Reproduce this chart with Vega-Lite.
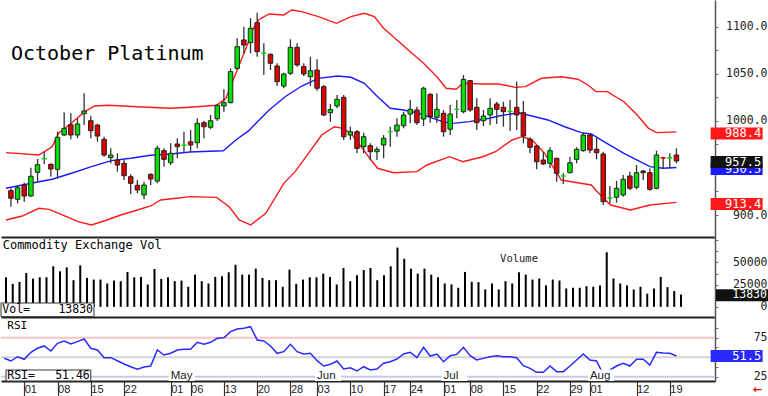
{
"$schema": "https://vega.github.io/schema/vega-lite/v6.json",
"padding": 0,
"background": "white",
"spacing": 0,
"bounds": "flush",
"config": {"view": {"stroke": null}, "axis": {"grid": false, "labelFlush": false, "labelOverlap": false}},
"datasets": {
"one": [{}],
"candles": [{"i":0,"o":925.9,"h":928.4,"l":908.8,"c":917.8},{"i":1,"o":916.7,"h":931.2,"l":912.4,"c":929.0},{"i":2,"o":931.9,"h":934.3,"l":914.2,"c":920.2},{"i":3,"o":920.2,"h":950.3,"l":919.5,"c":941.2},{"i":4,"o":945.4,"h":959.6,"l":935.4,"c":953.5},{"i":5,"o":959.6,"h":967.3,"l":954.2,"c":960.2},{"i":6,"o":953.9,"h":955.0,"l":940.7,"c":948.9},{"i":7,"o":948.6,"h":988.6,"l":938.9,"c":982.7},{"i":8,"o":985.1,"h":1009.2,"l":984.0,"c":992.2},{"i":9,"o":996.0,"h":1008.2,"l":980.5,"c":985.1},{"i":10,"o":985.1,"h":1002.9,"l":981.6,"c":996.8},{"i":11,"o":1007.8,"h":1029.5,"l":995.7,"c":1010.6},{"i":12,"o":1000.3,"h":1005.6,"l":981.6,"c":989.7},{"i":13,"o":995.7,"h":997.0,"l":978.0,"c":984.0},{"i":14,"o":980.5,"h":983.3,"l":962.0,"c":963.8},{"i":15,"o":961.0,"h":970.9,"l":955.0,"c":963.8},{"i":16,"o":958.5,"h":965.6,"l":946.0,"c":953.2},{"i":17,"o":955.0,"h":959.2,"l":937.2,"c":941.8},{"i":18,"o":940.7,"h":943.3,"l":922.0,"c":933.7},{"i":19,"o":931.6,"h":937.2,"l":923.1,"c":926.6},{"i":20,"o":921.3,"h":935.4,"l":916.7,"c":931.9},{"i":21,"o":943.2,"h":944.4,"l":931.9,"c":938.3},{"i":22,"o":936.1,"h":973.7,"l":933.7,"c":971.0},{"i":23,"o":968.4,"h":971.0,"l":951.4,"c":959.2},{"i":24,"o":955.6,"h":976.3,"l":953.2,"c":965.6},{"i":25,"o":975.5,"h":981.6,"l":960.3,"c":972.7},{"i":26,"o":974.0,"h":988.6,"l":967.3,"c":974.5},{"i":27,"o":977.9,"h":990.4,"l":967.3,"c":974.5},{"i":28,"o":976.9,"h":1002.9,"l":970.9,"c":997.5},{"i":29,"o":998.2,"h":1000.3,"l":981.6,"c":993.9},{"i":30,"o":993.3,"h":1006.4,"l":991.2,"c":1000.3},{"i":31,"o":1002.4,"h":1017.7,"l":1000.0,"c":1016.7},{"i":32,"o":1016.0,"h":1033.7,"l":1009.9,"c":1019.5},{"i":33,"o":1019.5,"h":1056.0,"l":1018.8,"c":1052.5},{"i":34,"o":1056.0,"h":1088.0,"l":1054.2,"c":1079.0},{"i":35,"o":1086.2,"h":1100.3,"l":1072.0,"c":1080.8},{"i":36,"o":1083.3,"h":1109.3,"l":1072.0,"c":1098.6},{"i":37,"o":1104.6,"h":1115.2,"l":1068.4,"c":1073.7},{"i":38,"o":1072.0,"h":1082.6,"l":1048.9,"c":1072.4},{"i":39,"o":1070.9,"h":1072.0,"l":1054.2,"c":1061.4},{"i":40,"o":1058.5,"h":1061.4,"l":1037.2,"c":1041.8},{"i":41,"o":1037.2,"h":1051.4,"l":1034.8,"c":1050.0},{"i":42,"o":1050.7,"h":1086.9,"l":1048.9,"c":1078.4},{"i":43,"o":1078.4,"h":1082.6,"l":1057.8,"c":1059.6},{"i":44,"o":1057.8,"h":1061.4,"l":1047.9,"c":1050.0},{"i":45,"o":1047.1,"h":1068.4,"l":1037.2,"c":1053.5},{"i":46,"o":1054.2,"h":1065.6,"l":1032.2,"c":1034.8},{"i":47,"o":1036.5,"h":1038.3,"l":1005.3,"c":1006.4},{"i":48,"o":1008.8,"h":1018.1,"l":999.2,"c":1012.2},{"i":49,"o":1016.0,"h":1027.7,"l":1013.5,"c":1023.1},{"i":50,"o":1025.2,"h":1027.7,"l":979.8,"c":983.3},{"i":51,"o":985.1,"h":993.9,"l":979.8,"c":988.6},{"i":52,"o":988.6,"h":990.4,"l":965.6,"c":970.9},{"i":53,"o":972.7,"h":987.6,"l":965.6,"c":983.3},{"i":54,"o":973.7,"h":976.3,"l":958.5,"c":967.3},{"i":55,"o":967.3,"h":972.7,"l":958.5,"c":969.9},{"i":56,"o":974.5,"h":985.1,"l":960.3,"c":981.6},{"i":57,"o":988.4,"h":993.9,"l":972.7,"c":988.8},{"i":58,"o":989.4,"h":1002.9,"l":983.3,"c":995.7},{"i":59,"o":995.0,"h":1009.9,"l":992.2,"c":1006.4},{"i":60,"o":1007.4,"h":1022.3,"l":997.5,"c":1012.4},{"i":61,"o":1011.7,"h":1015.2,"l":995.7,"c":998.2},{"i":62,"o":1002.1,"h":1036.5,"l":994.7,"c":1034.8},{"i":63,"o":1028.4,"h":1029.5,"l":998.2,"c":1004.6},{"i":64,"o":1003.9,"h":1029.5,"l":998.2,"c":1012.4},{"i":65,"o":1008.2,"h":1011.7,"l":983.3,"c":988.6},{"i":66,"o":991.2,"h":1017.0,"l":985.1,"c":1007.4},{"i":67,"o":1012.2,"h":1022.3,"l":1002.9,"c":1012.6},{"i":68,"o":1009.9,"h":1048.9,"l":1008.2,"c":1044.3},{"i":69,"o":1042.9,"h":1043.6,"l":1009.9,"c":1011.7},{"i":70,"o":1014.6,"h":1024.1,"l":990.4,"c":998.2},{"i":71,"o":1000.3,"h":1011.7,"l":994.7,"c":1005.3},{"i":72,"o":1006.4,"h":1024.1,"l":995.7,"c":1013.5},{"i":73,"o":1018.1,"h":1020.5,"l":996.8,"c":1012.4},{"i":74,"o":1014.6,"h":1020.5,"l":994.0,"c":1009.9},{"i":75,"o":1010.0,"h":1022.3,"l":989.4,"c":1010.4},{"i":76,"o":1014.6,"h":1041.8,"l":990.4,"c":1006.4},{"i":77,"o":1008.8,"h":1021.3,"l":976.3,"c":984.0},{"i":78,"o":980.5,"h":982.7,"l":965.6,"c":972.0},{"i":79,"o":973.4,"h":974.5,"l":948.6,"c":956.7},{"i":80,"o":958.5,"h":967.3,"l":953.2,"c":954.3},{"i":81,"o":955.0,"h":972.0,"l":949.7,"c":968.4},{"i":82,"o":960.3,"h":960.8,"l":935.4,"c":944.4},{"i":83,"o":941.3,"h":944.4,"l":932.9,"c":941.7},{"i":84,"o":945.0,"h":962.0,"l":944.4,"c":955.6},{"i":85,"o":959.2,"h":972.0,"l":955.0,"c":969.9},{"i":86,"o":968.4,"h":987.6,"l":967.3,"c":985.1},{"i":87,"o":985.1,"h":986.2,"l":965.6,"c":969.1},{"i":88,"o":969.9,"h":982.7,"l":959.2,"c":966.3},{"i":89,"o":964.9,"h":967.3,"l":910.6,"c":914.2},{"i":90,"o":917.8,"h":930.8,"l":912.4,"c":918.3},{"i":91,"o":918.8,"h":936.5,"l":913.1,"c":928.4},{"i":92,"o":921.3,"h":942.5,"l":919.5,"c":938.0},{"i":93,"o":941.5,"h":946.1,"l":926.6,"c":928.4},{"i":94,"o":929.5,"h":953.2,"l":927.3,"c":945.0},{"i":95,"o":946.8,"h":947.9,"l":937.2,"c":945.0},{"i":96,"o":945.0,"h":949.7,"l":925.8,"c":927.3},{"i":97,"o":928.4,"h":968.4,"l":927.3,"c":963.8},{"i":98,"o":961.0,"h":962.0,"l":949.7,"c":960.5},{"i":99,"o":960.5,"h":965.6,"l":949.7,"c":961.0},{"i":100,"o":963.8,"h":970.9,"l":955.0,"c":957.5}],
"bands": [
{"s":"up","i":-0.74,"v":966.3},{"s":"up","i":4.2,"v":963.8},{"s":"up","i":6.2,"v":972.7},{"s":"up","i":7.2,"v":987.2},{"s":"up","i":9.1,"v":997.9},{"s":"up","i":11.1,"v":1009.9},{"s":"up","i":12.6,"v":1016.0},{"s":"up","i":14.6,"v":1016.7},{"s":"up","i":19,"v":1015.2},{"s":"up","i":24,"v":1013.5},{"s":"up","i":26.9,"v":1014.6},{"s":"up","i":30.9,"v":1016.7},{"s":"up","i":32.3,"v":1024.1},{"s":"up","i":33.8,"v":1050.7},{"s":"up","i":35.8,"v":1086.0},{"s":"up","i":36.3,"v":1097.0},{"s":"up","i":37.3,"v":1108.0},{"s":"up","i":38.8,"v":1113.8},{"s":"up","i":41,"v":1112.8},{"s":"up","i":42.2,"v":1118.1},{"s":"up","i":43.7,"v":1116.3},{"s":"up","i":46.2,"v":1111.0},{"s":"up","i":48.9,"v":1103.9},{"s":"up","i":51.1,"v":1111.0},{"s":"up","i":53.1,"v":1114.6},{"s":"up","i":54.6,"v":1111.0},{"s":"up","i":56,"v":1098.6},{"s":"up","i":58,"v":1086.2},{"s":"up","i":60,"v":1073.7},{"s":"up","i":62,"v":1061.4},{"s":"up","i":64,"v":1047.1},{"s":"up","i":65.4,"v":1034.8},{"s":"up","i":66.9,"v":1033.7},{"s":"up","i":67.9,"v":1040.1},{"s":"up","i":70.9,"v":1039.4},{"s":"up","i":73.3,"v":1039.4},{"s":"up","i":75.8,"v":1035.8},{"s":"up","i":77.3,"v":1036.5},{"s":"up","i":79.7,"v":1045.4},{"s":"up","i":82.7,"v":1047.1},{"s":"up","i":85.2,"v":1044.4},{"s":"up","i":86.7,"v":1038.3},{"s":"up","i":87.9,"v":1031.2},{"s":"up","i":89.6,"v":1031.2},{"s":"up","i":92.1,"v":1020.5},{"s":"up","i":94.1,"v":1006.4},{"s":"up","i":95.8,"v":992.2},{"s":"up","i":97,"v":987.6},{"s":"up","i":100,"v":988.4},
{"s":"ma","i":-0.74,"v":928.4},{"s":"ma","i":4.2,"v":935.4},{"s":"ma","i":6.2,"v":938.0},{"s":"ma","i":9.1,"v":944.4},{"s":"ma","i":12.1,"v":951.4},{"s":"ma","i":15.1,"v":957.8},{"s":"ma","i":18,"v":960.3},{"s":"ma","i":21,"v":963.5},{"s":"ma","i":24,"v":964.9},{"s":"ma","i":26.9,"v":967.0},{"s":"ma","i":31.9,"v":968.4},{"s":"ma","i":33.8,"v":979.8},{"s":"ma","i":35.8,"v":990.0},{"s":"ma","i":36.3,"v":993.9},{"s":"ma","i":38.8,"v":1011.7},{"s":"ma","i":41.2,"v":1025.8},{"s":"ma","i":43.7,"v":1037.2},{"s":"ma","i":46.2,"v":1045.4},{"s":"ma","i":49.1,"v":1047.9},{"s":"ma","i":51.1,"v":1046.5},{"s":"ma","i":53.1,"v":1040.1},{"s":"ma","i":55.1,"v":1025.8},{"s":"ma","i":57,"v":1013.5},{"s":"ma","i":59,"v":1011.7},{"s":"ma","i":61,"v":1008.8},{"s":"ma","i":63,"v":1003.9},{"s":"ma","i":64.9,"v":999.3},{"s":"ma","i":66.4,"v":997.5},{"s":"ma","i":68.9,"v":999.3},{"s":"ma","i":71.9,"v":1002.9},{"s":"ma","i":73.3,"v":1005.3},{"s":"ma","i":76.3,"v":1008.8},{"s":"ma","i":80.7,"v":1001.1},{"s":"ma","i":83.2,"v":993.9},{"s":"ma","i":85.7,"v":987.6},{"s":"ma","i":87.2,"v":986.2},{"s":"ma","i":89.1,"v":978.0},{"s":"ma","i":92.1,"v":965.6},{"s":"ma","i":94.1,"v":958.5},{"s":"ma","i":96,"v":951.4},{"s":"ma","i":98,"v":949.7},{"s":"ma","i":100,"v":950.5},
{"s":"lo","i":-0.74,"v":894.7},{"s":"lo","i":1.7,"v":898.9},{"s":"lo","i":4.2,"v":907.1},{"s":"lo","i":5.7,"v":906.0},{"s":"lo","i":7.2,"v":901.8},{"s":"lo","i":10.1,"v":892.9},{"s":"lo","i":12.1,"v":889.4},{"s":"lo","i":14.1,"v":893.9},{"s":"lo","i":16.5,"v":900.0},{"s":"lo","i":19,"v":905.3},{"s":"lo","i":21,"v":909.6},{"s":"lo","i":22.5,"v":916.0},{"s":"lo","i":24.9,"v":917.8},{"s":"lo","i":26.9,"v":919.5},{"s":"lo","i":30.9,"v":918.8},{"s":"lo","i":32.8,"v":908.8},{"s":"lo","i":34.3,"v":894.7},{"s":"lo","i":36,"v":889.4},{"s":"lo","i":38.3,"v":901.8},{"s":"lo","i":41,"v":933.7},{"s":"lo","i":42.7,"v":946.1},{"s":"lo","i":44.7,"v":965.6},{"s":"lo","i":46.7,"v":985.1},{"s":"lo","i":48.6,"v":993.9},{"s":"lo","i":49.9,"v":992.2},{"s":"lo","i":51.1,"v":986.9},{"s":"lo","i":52.6,"v":972.7},{"s":"lo","i":54.1,"v":958.5},{"s":"lo","i":55.1,"v":949.7},{"s":"lo","i":57.5,"v":945.0},{"s":"lo","i":61,"v":946.1},{"s":"lo","i":62.5,"v":953.2},{"s":"lo","i":65.9,"v":962.0},{"s":"lo","i":67.9,"v":956.7},{"s":"lo","i":70.9,"v":962.0},{"s":"lo","i":72.8,"v":967.3},{"s":"lo","i":75.3,"v":979.8},{"s":"lo","i":76.8,"v":983.3},{"s":"lo","i":78.3,"v":979.8},{"s":"lo","i":80.2,"v":965.6},{"s":"lo","i":82.7,"v":937.2},{"s":"lo","i":84.2,"v":935.4},{"s":"lo","i":87.2,"v":931.9},{"s":"lo","i":88.1,"v":924.8},{"s":"lo","i":90.1,"v":910.6},{"s":"lo","i":93.1,"v":905.3},{"s":"lo","i":96,"v":910.6},{"s":"lo","i":100,"v":913.4}],
"vol": [{"i":0,"vol":33300},{"i":1,"vol":25900},{"i":2,"vol":28100},{"i":3,"vol":38100},{"i":4,"vol":31900},{"i":5,"vol":33300},{"i":6,"vol":33300},{"i":7,"vol":45600},{"i":8,"vol":40000},{"i":9,"vol":44400},{"i":10,"vol":30000},{"i":11,"vol":46700},{"i":12,"vol":32600},{"i":13,"vol":30700},{"i":14,"vol":30700},{"i":15,"vol":26300},{"i":16,"vol":29600},{"i":17,"vol":28900},{"i":18,"vol":39300},{"i":19,"vol":33300},{"i":20,"vol":33700},{"i":21,"vol":25200},{"i":22,"vol":42600},{"i":23,"vol":31500},{"i":24,"vol":33300},{"i":25,"vol":28900},{"i":26,"vol":29600},{"i":27,"vol":22600},{"i":28,"vol":36300},{"i":29,"vol":28900},{"i":30,"vol":26300},{"i":31,"vol":33700},{"i":32,"vol":34400},{"i":33,"vol":38900},{"i":34,"vol":47400},{"i":35,"vol":36300},{"i":36,"vol":36300},{"i":37,"vol":43000},{"i":38,"vol":32600},{"i":39,"vol":30000},{"i":40,"vol":30000},{"i":41,"vol":22600},{"i":42,"vol":41900},{"i":43,"vol":25900},{"i":44,"vol":30700},{"i":45,"vol":33300},{"i":46,"vol":33300},{"i":47,"vol":37400},{"i":48,"vol":33700},{"i":49,"vol":25200},{"i":50,"vol":43700},{"i":51,"vol":28900},{"i":52,"vol":35600},{"i":53,"vol":41500},{"i":54,"vol":43700},{"i":55,"vol":30000},{"i":56,"vol":35600},{"i":57,"vol":45600},{"i":58,"vol":66700},{"i":59,"vol":54100},{"i":60,"vol":43000},{"i":61,"vol":37400},{"i":62,"vol":43000},{"i":63,"vol":36300},{"i":64,"vol":33300},{"i":65,"vol":26300},{"i":66,"vol":25200},{"i":67,"vol":21500},{"i":68,"vol":39300},{"i":69,"vol":28200},{"i":70,"vol":27800},{"i":71,"vol":19600},{"i":72,"vol":26300},{"i":73,"vol":19600},{"i":74,"vol":28900},{"i":75,"vol":26300},{"i":76,"vol":38900},{"i":77,"vol":36300},{"i":78,"vol":30700},{"i":79,"vol":31900},{"i":80,"vol":24100},{"i":81,"vol":30700},{"i":82,"vol":29600},{"i":83,"vol":20700},{"i":84,"vol":21500},{"i":85,"vol":21500},{"i":86,"vol":23300},{"i":87,"vol":22600},{"i":88,"vol":24100},{"i":89,"vol":61500},{"i":90,"vol":31900},{"i":91,"vol":26300},{"i":92,"vol":24100},{"i":93,"vol":19600},{"i":94,"vol":22600},{"i":95,"vol":14800},{"i":96,"vol":20700},{"i":97,"vol":33700},{"i":98,"vol":22200},{"i":99,"vol":17800},{"i":100,"vol":13830}],
"rsi": [{"i":-1,"r":48.6},{"i":0,"r":45.1},{"i":1,"r":50.6},{"i":2,"r":47.3},{"i":3,"r":56.3},{"i":4,"r":61.4},{"i":5,"r":64.4},{"i":6,"r":57.9},{"i":7,"r":67.8},{"i":8,"r":70.8},{"i":9,"r":66.9},{"i":10,"r":69.9},{"i":11,"r":73.3},{"i":12,"r":61.4},{"i":13,"r":59.2},{"i":14,"r":49.4},{"i":15,"r":49.4},{"i":16,"r":45.5},{"i":17,"r":41.3},{"i":18,"r":37.8},{"i":19,"r":34.5},{"i":20,"r":37.4},{"i":21,"r":38.7},{"i":22,"r":59.2},{"i":23,"r":52.8},{"i":24,"r":55.0},{"i":25,"r":59.2},{"i":26,"r":60.1},{"i":27,"r":60.1},{"i":28,"r":69.1},{"i":29,"r":66.5},{"i":30,"r":69.1},{"i":31,"r":74.2},{"i":32,"r":75.0},{"i":33,"r":82.7},{"i":34,"r":86.2},{"i":35,"r":87.0},{"i":36,"r":89.1},{"i":37,"r":72.1},{"i":38,"r":70.8},{"i":39,"r":64.4},{"i":40,"r":55.0},{"i":41,"r":57.1},{"i":42,"r":66.5},{"i":43,"r":57.1},{"i":44,"r":54.1},{"i":45,"r":55.0},{"i":46,"r":45.5},{"i":47,"r":38.7},{"i":48,"r":40.9},{"i":49,"r":45.1},{"i":50,"r":34.9},{"i":51,"r":36.5},{"i":52,"r":32.3},{"i":53,"r":37.8},{"i":54,"r":33.6},{"i":55,"r":34.9},{"i":56,"r":42.2},{"i":57,"r":44.2},{"i":58,"r":47.7},{"i":59,"r":54.1},{"i":60,"r":56.3},{"i":61,"r":49.4},{"i":62,"r":62.7},{"i":63,"r":51.5},{"i":64,"r":54.1},{"i":65,"r":44.2},{"i":66,"r":51.9},{"i":67,"r":53.6},{"i":68,"r":62.7},{"i":69,"r":51.9},{"i":70,"r":46.4},{"i":71,"r":48.5},{"i":72,"r":50.6},{"i":73,"r":51.9},{"i":74,"r":50.6},{"i":75,"r":50.6},{"i":76,"r":49.4},{"i":77,"r":39.1},{"i":78,"r":35.7},{"i":79,"r":30.6},{"i":80,"r":30.6},{"i":81,"r":38.7},{"i":82,"r":31.5},{"i":83,"r":31.5},{"i":84,"r":38.7},{"i":85,"r":46.4},{"i":86,"r":54.1},{"i":87,"r":46.4},{"i":88,"r":45.1},{"i":89,"r":28.0},{"i":90,"r":33.6},{"i":91,"r":38.7},{"i":92,"r":42.2},{"i":93,"r":38.7},{"i":94,"r":47.3},{"i":95,"r":47.3},{"i":96,"r":40.0},{"i":97,"r":56.3},{"i":98,"r":55.4},{"i":99,"r":55.0},{"i":100,"r":51.5}],
"pbox": [{"s":"up","v":988.4},{"s":"lo","v":913.4},{"s":"ma","v":950.5},{"s":"last","v":957.5}],
"months": [{"i":24,"m":"May"},{"i":46,"m":"Jun"},{"i":65,"m":"Jul"},{"i":87,"m":"Aug"}]
},
"vconcat": [
{
"width": 714, "height": 237,
"layer": [
{"data": {"name": "bands"}, "mark": {"type": "line", "strokeWidth": 1.4},
 "encoding": {
   "x": {"field": "i", "type": "quantitative", "title": null, "scale": {"domain": [-0.74, 105.04]}, "axis": {"orient": "bottom", "labels": false, "ticks": false, "domainColor": "#222", "domainWidth": 2}},
   "y": {"field": "v", "type": "quantitative", "title": null, "scale": {"domain": [876.6, 1128.7]},
   "axis": {"orient": "right", "values": [900,925,950,975,1000,1025,1050,1075,1100], "tickCount": 100, "labelExpr": "datum.value % 50 == 0 && datum.value != 950 ? format(datum.value, '.1f') : ''", "labelOverlap": false, "tickSize": 3, "tickColor": "#777", "labelAlign": "right", "labelPadding": 49, "labelFont": "DejaVu Sans Mono", "labelFontSize": 11.5, "labelColor": "#222", "domainColor": "#555", "domainWidth": 1.5}},
   "color": {"field": "s", "type": "nominal", "scale": {"domain": ["up","ma","lo","last"], "range": ["#ff1a1a","#1a1aff","#ff1a1a","#111111"]}, "legend": null},
   "detail": {"field": "s"}}},
{"data": {"name": "candles"}, "mark": {"type": "rule", "color": "#333", "strokeWidth": 1.3},
 "encoding": {"x": {"field": "i", "type": "quantitative", "title": null, "scale": {"domain": [-0.74, 105.04]}}, "y": {"field": "l", "type": "quantitative", "title": null, "scale": {"domain": [876.6, 1128.7]}}, "y2": {"field": "h"}}},
{"data": {"name": "candles"}, "mark": {"type": "bar", "width": 4.5, "strokeWidth": 1},
 "encoding": {"x": {"field": "i", "type": "quantitative", "title": null, "scale": {"domain": [-0.74, 105.04]}}, "y": {"field": "o", "type": "quantitative", "title": null, "scale": {"domain": [876.6, 1128.7]}}, "y2": {"field": "c"},
   "fill": {"condition": {"test": "datum.c >= datum.o", "value": "#00e000"}, "value": "#e00000"},
   "stroke": {"condition": [{"test": "abs(datum.c - datum.o) < 1.2 && datum.c >= datum.o", "value": "#00e000"}, {"test": "abs(datum.c - datum.o) < 1.2", "value": "#e00000"}], "value": "#222"}}},
{"data": {"name": "one"}, "mark": {"type": "text", "text": "October Platinum", "font": "DejaVu Sans Mono", "fontSize": 20, "align": "left", "baseline": "alphabetic", "color": "#000"},
 "encoding": {"x": {"datum": 0.0, "type": "quantitative", "title": null, "scale": {"domain": [-0.74, 105.04]}}, "y": {"datum": 1065.0, "type": "quantitative", "title": null, "scale": {"domain": [876.6, 1128.7]}}}},
{"data": {"name": "pbox"}, "transform": [{"filter": "datum.s != 'last'"}], "mark": {"type": "tick", "orient": "horizontal", "size": 52, "thickness": 12, "opacity": 1, "yOffset": 1.5},
 "encoding": {"x": {"datum": 109.04, "type": "quantitative", "title": null, "scale": {"domain": [-0.74, 105.04]}}, "y": {"field": "v", "type": "quantitative", "title": null, "scale": {"domain": [876.6, 1128.7]}},
   "color": {"field": "s", "type": "nominal", "scale": {"domain": ["up","ma","lo","last"], "range": ["#ff1a1a","#1a1aff","#ff1a1a","#111111"]}, "legend": null}}},
{"data": {"name": "pbox"}, "transform": [{"filter": "datum.s != 'last'"}], "mark": {"type": "text", "align": "right", "baseline": "middle", "font": "DejaVu Sans Mono", "fontSize": 12, "color": "white", "yOffset": 1.5},
 "encoding": {"x": {"datum": 112.74, "type": "quantitative", "title": null, "scale": {"domain": [-0.74, 105.04]}}, "y": {"field": "v", "type": "quantitative", "title": null, "scale": {"domain": [876.6, 1128.7]}}, "text": {"field": "v", "format": ".1f"}}},
{"data": {"name": "pbox"}, "transform": [{"filter": "datum.s == 'last'"}], "mark": {"type": "tick", "orient": "horizontal", "size": 52, "thickness": 12, "opacity": 1, "color": "#111111", "yOffset": 1},
 "encoding": {"x": {"datum": 109.04, "type": "quantitative", "title": null, "scale": {"domain": [-0.74, 105.04]}}, "y": {"field": "v", "type": "quantitative", "title": null, "scale": {"domain": [876.6, 1128.7]}}}},
{"data": {"name": "pbox"}, "transform": [{"filter": "datum.s == 'last'"}], "mark": {"type": "text", "align": "right", "baseline": "middle", "font": "DejaVu Sans Mono", "fontSize": 12, "color": "white", "yOffset": 1},
 "encoding": {"x": {"datum": 112.74, "type": "quantitative", "title": null, "scale": {"domain": [-0.74, 105.04]}}, "y": {"field": "v", "type": "quantitative", "title": null, "scale": {"domain": [876.6, 1128.7]}}, "text": {"field": "v", "format": ".1f"}}}
]
},
{
"width": 714, "height": 80,
"layer": [
{"data": {"name": "vol"}, "mark": {"type": "rule", "color": "#000", "strokeWidth": 2},
 "encoding": {
   "x": {"field": "i", "type": "quantitative", "title": null, "scale": {"domain": [-0.74, 105.04]}, "axis": {"orient": "bottom", "labels": false, "ticks": false, "domainColor": "#222", "domainWidth": 2}},
   "y": {"field": "vol", "type": "quantitative", "title": null, "scale": {"domain": [-11400, 78600]},
   "axis": {"orient": "right", "values": [0,12500,25000,37500,50000,62500,75000], "tickCount": 100, "labelExpr": "datum.value % 25000 == 0 && datum.value <= 50000 ? format(datum.value, 'd') : ''", "labelOverlap": false, "tickSize": 3, "tickColor": "#777", "labelAlign": "right", "labelPadding": 49, "labelFont": "DejaVu Sans Mono", "labelFontSize": 11.5, "labelColor": "#222", "domainColor": "#555", "domainWidth": 1.5}},
   "y2": {"datum": 0}}},
{"data": {"name": "one"}, "mark": {"type": "text", "text": "Commodity Exchange Vol", "font": "DejaVu Sans Mono", "fontSize": 12, "align": "left", "baseline": "alphabetic", "color": "#000"},
 "encoding": {"x": {"datum": -0.49, "type": "quantitative", "title": null, "scale": {"domain": [-0.74, 105.04]}}, "y": {"datum": 64540, "type": "quantitative", "title": null, "scale": {"domain": [-11400, 78600]}}}},
{"data": {"name": "one"}, "mark": {"type": "text", "text": "Volume", "font": "DejaVu Sans Mono", "fontSize": 10.5, "align": "left", "baseline": "alphabetic", "color": "#222"},
 "encoding": {"x": {"datum": 73.2, "type": "quantitative", "title": null, "scale": {"domain": [-0.74, 105.04]}}, "y": {"datum": 50140, "type": "quantitative", "title": null, "scale": {"domain": [-11400, 78600]}}}},
{"data": {"name": "one"}, "mark": {"type": "rect", "fill": "white", "stroke": "#333", "strokeWidth": 1},
 "encoding": {"x": {"datum": -0.74, "type": "quantitative", "title": null, "scale": {"domain": [-0.74, 105.04]}}, "x2": {"datum": 13.04}, "y": {"datum": 4350, "type": "quantitative", "title": null, "scale": {"domain": [-11400, 78600]}}, "y2": {"datum": -11000}}},
{"data": {"name": "one"}, "mark": {"type": "text", "text": "Vol=", "font": "DejaVu Sans Mono", "fontSize": 11.5, "align": "left", "baseline": "alphabetic", "color": "#000"},
 "encoding": {"x": {"datum": -0.55, "type": "quantitative", "title": null, "scale": {"domain": [-0.74, 105.04]}}, "y": {"datum": -7240, "type": "quantitative", "title": null, "scale": {"domain": [-11400, 78600]}}}},
{"data": {"name": "one"}, "mark": {"type": "text", "text": "13830", "font": "DejaVu Sans Mono", "fontSize": 11.5, "align": "right", "baseline": "alphabetic", "color": "#000"},
 "encoding": {"x": {"datum": 12.89, "type": "quantitative", "title": null, "scale": {"domain": [-0.74, 105.04]}}, "y": {"datum": -7240, "type": "quantitative", "title": null, "scale": {"domain": [-11400, 78600]}}}},
{"data": {"name": "one"}, "mark": {"type": "tick", "orient": "horizontal", "size": 52, "thickness": 12, "opacity": 1, "color": "#111111"},
 "encoding": {"x": {"datum": 109.04, "type": "quantitative", "title": null, "scale": {"domain": [-0.74, 105.04]}}, "y": {"datum": 13000, "type": "quantitative", "title": null, "scale": {"domain": [-11400, 78600]}}}},
{"data": {"name": "one"}, "mark": {"type": "text", "text": "13830", "align": "right", "baseline": "middle", "font": "DejaVu Sans Mono", "fontSize": 11.5, "color": "white"},
 "encoding": {"x": {"datum": 112.74, "type": "quantitative", "title": null, "scale": {"domain": [-0.74, 105.04]}}, "y": {"datum": 13000, "type": "quantitative", "title": null, "scale": {"domain": [-11400, 78600]}}}}
]
},
{
"width": 714, "height": 64,
"layer": [
{"data": {"name": "rsi"}, "mark": {"type": "line", "color": "#2a2aff", "strokeWidth": 1.5, "clip": true, "opacity": 0},
 "encoding": {
   "x": {"field": "i", "type": "quantitative", "title": null, "scale": {"domain": [-0.74, 105.04]},
    "axis": {"orient": "bottom", "values": [2,7,12,17,24,27,32,37,42,46,51,56,60,65,69,74,79,84,87,94,99], "tickCount": 100,
     "labelExpr": "datum.value==2?'01':datum.value==7?'08':datum.value==12?'15':datum.value==17?'22':datum.value==24?'01':datum.value==27?'06':datum.value==32?'13':datum.value==37?'20':datum.value==42?'28':datum.value==46?'03':datum.value==51?'10':datum.value==56?'17':datum.value==60?'24':datum.value==65?'01':datum.value==69?'08':datum.value==74?'15':datum.value==79?'22':datum.value==84?'29':datum.value==87?'01':datum.value==94?'12':datum.value==99?'19':''",
     "labelOverlap": false, "tickSize": 15, "tickColor": "#333", "tickWidth": 1.2, "labelAlign": "left", "labelBaseline": "top", "labelPadding": -13, "labelDx": 2, "labelFont": "Liberation Sans", "labelFontSize": 11, "labelColor": "#222", "domainColor": "#222", "domainWidth": 2}},
   "y": {"field": "r", "type": "quantitative", "title": null, "scale": {"domain": [19.5, 101.5]},
   "axis": {"orient": "right", "values": [25, 37.5, 50, 62.5, 75, 87.5], "tickCount": 100, "labelExpr": "datum.value == 25 || datum.value == 75 ? format(datum.value, 'd') : ''", "labelOverlap": false, "tickSize": 3, "tickColor": "#777", "labelAlign": "right", "labelPadding": 49, "labelFont": "DejaVu Sans Mono", "labelFontSize": 11.5, "labelColor": "#222", "domainColor": "#555", "domainWidth": 1.5}}}},
{"data": {"name": "one"}, "mark": {"type": "rule", "color": "#f8c4c4", "strokeWidth": 2}, "encoding": {"y": {"datum": 75, "type": "quantitative", "title": null, "scale": {"domain": [19.5, 101.5]}}}},
{"data": {"name": "one"}, "mark": {"type": "rule", "color": "#d4d4d4", "strokeWidth": 2}, "encoding": {"y": {"datum": 50, "type": "quantitative", "title": null, "scale": {"domain": [19.5, 101.5]}}}},
{"data": {"name": "one"}, "mark": {"type": "rule", "color": "#c8c8f4", "strokeWidth": 2}, "encoding": {"y": {"datum": 25, "type": "quantitative", "title": null, "scale": {"domain": [19.5, 101.5]}}}},
{"data": {"name": "rsi"}, "mark": {"type": "line", "color": "#2a2aff", "strokeWidth": 1.5, "clip": true},
 "encoding": {"x": {"field": "i", "type": "quantitative", "title": null, "scale": {"domain": [-0.74, 105.04]}}, "y": {"field": "r", "type": "quantitative", "title": null, "scale": {"domain": [19.5, 101.5]}}}},
{"data": {"name": "months"}, "mark": {"type": "bar", "width": 26, "xOffset": 11, "color": "white"},
 "encoding": {"x": {"field": "i", "type": "quantitative", "title": null, "scale": {"domain": [-0.74, 105.04]}}, "y": {"datum": 34.2, "type": "quantitative", "title": null, "scale": {"domain": [19.5, 101.5]}}, "y2": {"datum": 19.5}}},
{"data": {"name": "months"}, "mark": {"type": "text", "align": "left", "baseline": "alphabetic", "font": "Liberation Sans", "fontSize": 11.5, "color": "#222"},
 "encoding": {"x": {"field": "i", "type": "quantitative", "title": null, "scale": {"domain": [-0.74, 105.04]}}, "y": {"datum": 21.6, "type": "quantitative", "title": null, "scale": {"domain": [19.5, 101.5]}}, "text": {"field": "m"}}},
{"data": {"name": "one"}, "mark": {"type": "text", "text": "RSI", "font": "DejaVu Sans Mono", "fontSize": 11, "align": "left", "baseline": "alphabetic", "color": "#000"},
 "encoding": {"x": {"datum": -0.55, "type": "quantitative", "title": null, "scale": {"domain": [-0.74, 105.04]}}, "y": {"datum": 86.1, "type": "quantitative", "title": null, "scale": {"domain": [19.5, 101.5]}}}},
{"data": {"name": "one"}, "mark": {"type": "rect", "fill": "white", "stroke": "#333", "strokeWidth": 1},
 "encoding": {"x": {"datum": -0.74, "type": "quantitative", "title": null, "scale": {"domain": [-0.74, 105.04]}}, "x2": {"datum": 12.0}, "y": {"datum": 33.6, "type": "quantitative", "title": null, "scale": {"domain": [19.5, 101.5]}}, "y2": {"datum": 19.5}}},
{"data": {"name": "one"}, "mark": {"type": "text", "text": "RSI=", "font": "DejaVu Sans Mono", "fontSize": 11.5, "align": "left", "baseline": "alphabetic", "color": "#000"},
 "encoding": {"x": {"datum": -0.55, "type": "quantitative", "title": null, "scale": {"domain": [-0.74, 105.04]}}, "y": {"datum": 22.7, "type": "quantitative", "title": null, "scale": {"domain": [19.5, 101.5]}}}},
{"data": {"name": "one"}, "mark": {"type": "text", "text": "51.46", "font": "DejaVu Sans Mono", "fontSize": 11.5, "align": "right", "baseline": "alphabetic", "color": "#000"},
 "encoding": {"x": {"datum": 11.85, "type": "quantitative", "title": null, "scale": {"domain": [-0.74, 105.04]}}, "y": {"datum": 22.7, "type": "quantitative", "title": null, "scale": {"domain": [19.5, 101.5]}}}},
{"data": {"name": "one"}, "mark": {"type": "tick", "orient": "horizontal", "size": 52, "thickness": 12, "opacity": 1, "color": "#2a2aff"},
 "encoding": {"x": {"datum": 109.04, "type": "quantitative", "title": null, "scale": {"domain": [-0.74, 105.04]}}, "y": {"datum": 51.5, "type": "quantitative", "title": null, "scale": {"domain": [19.5, 101.5]}}}},
{"data": {"name": "one"}, "mark": {"type": "text", "text": "51.5", "align": "right", "baseline": "middle", "font": "DejaVu Sans Mono", "fontSize": 12, "color": "white"},
 "encoding": {"x": {"datum": 112.74, "type": "quantitative", "title": null, "scale": {"domain": [-0.74, 105.04]}}, "y": {"datum": 51.5, "type": "quantitative", "title": null, "scale": {"domain": [19.5, 101.5]}}}},
{"data": {"name": "one"}, "mark": {"type": "text", "text": "←", "align": "center", "baseline": "middle", "font": "DejaVu Sans", "fontSize": 11, "fontWeight": "bold", "color": "#e00000"},
 "encoding": {"x": {"datum": 112.15, "type": "quantitative", "title": null, "scale": {"domain": [-0.74, 105.04]}}, "y": {"datum": 8.5, "type": "quantitative", "title": null, "scale": {"domain": [19.5, 101.5]}}}}
]
}
]
}
